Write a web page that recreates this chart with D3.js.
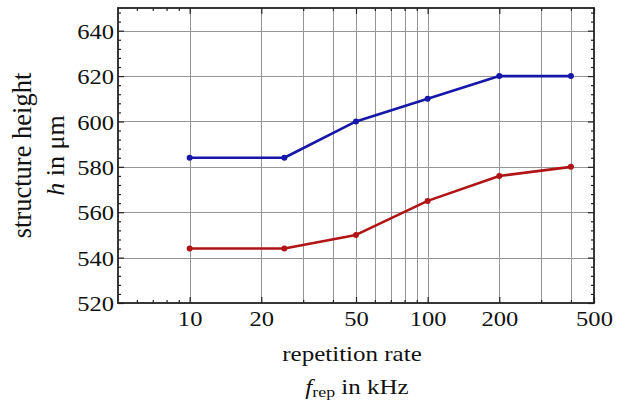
<!DOCTYPE html>
<html>
<head>
<meta charset="utf-8">
<script src="https://cdn.jsdelivr.net/npm/d3@7"></script>
<style>
  body { margin: 0; background: #fff; }
  text { font-family: "Liberation Serif", "Times New Roman", serif; fill: #111; }
</style>
</head>
<body>
<svg id="chart"></svg>
<script>
// repetition rate (kHz) and structure heights (µm)
const rate = [10, 25, 50, 100, 200, 400];
const heightBlue = [584, 584, 600, 610, 620, 620];
const heightRed = [544, 544, 550, 565, 576, 580];

const xTicks = [10, 20, 50, 100, 200, 500];
const xMinor = [6, 7, 8, 9, 30, 40, 60, 70, 80, 90, 300, 400];
const xGrid = [10, 20, 30, 40, 50, 60, 70, 80, 90, 100, 200, 300, 400];
const yTicks = [520, 540, 560, 580, 600, 620, 640];
const yGrid = [540, 560, 580, 600, 620, 640];

const width = 625;
const height = 403;
const margin = { top: 8, right: 31, bottom: 100, left: 118 };

const svg = d3.select("#chart").attr("width", width).attr("height", height);

const x = d3.scaleLog().domain([5, 500]).range([margin.left, width - margin.right]);
const y = d3.scaleLinear().domain([520, 650]).range([height - margin.bottom, margin.top]);

const yMinor = d3.range(524, 650, 4).filter((d) => d % 20 !== 0);

// grid
const grid = svg.append("g").attr("stroke", "#959595").attr("stroke-width", 1);
grid.selectAll(".gx")
  .data(xGrid)
  .join("line")
  .attr("x1", (d) => Math.round(x(d)) + 0.5)
  .attr("x2", (d) => Math.round(x(d)) + 0.5)
  .attr("y1", y(650))
  .attr("y2", y(520));
grid.selectAll(".gy")
  .data(yGrid)
  .join("line")
  .attr("x1", x(5))
  .attr("x2", x(500))
  .attr("y1", (d) => Math.round(y(d)) + 0.5)
  .attr("y2", (d) => Math.round(y(d)) + 0.5);

// frame ticks (all pointing inward)
const addAxis = (axis, transform) =>
  svg.append("g")
    .attr("transform", transform)
    .call(axis)
    .call((g) => g.select(".domain").remove())
    .call((g) => g.selectAll("line").attr("stroke", "#222").attr("stroke-width", 1.2));

const atBottom = `translate(0,${y(520)})`;
const atTop = `translate(0,${y(650)})`;
const atLeft = `translate(${x(5)},0)`;
const atRight = `translate(${x(500)},0)`;

const xb = addAxis(d3.axisBottom(x).tickValues(xTicks).tickSize(-6).tickFormat(d3.format("d")), atBottom);
xb.selectAll("text")
  .attr("y", 23)
  .attr("dy", null)
  .attr("font-size", 21)
  .attr("transform", "scale(1.17,1)");
addAxis(d3.axisBottom(x).tickValues(xMinor).tickSize(-3).tickFormat(""), atBottom);
addAxis(d3.axisTop(x).tickValues(xTicks).tickSize(-6).tickFormat(""), atTop);
addAxis(d3.axisTop(x).tickValues(xMinor).tickSize(-3).tickFormat(""), atTop);

const yl = addAxis(d3.axisLeft(y).tickValues(yTicks).tickSize(-6).tickFormat(d3.format("d")), atLeft);
yl.selectAll("text")
  .attr("x", -4 / 1.17)
  .attr("dy", "0.36em")
  .attr("font-size", 21)
  .attr("transform", "scale(1.17,1)");
addAxis(d3.axisLeft(y).tickValues(yMinor).tickSize(-3).tickFormat(""), atLeft);
addAxis(d3.axisRight(y).tickValues(yTicks).tickSize(-6).tickFormat(""), atRight);
addAxis(d3.axisRight(y).tickValues(yMinor).tickSize(-3).tickFormat(""), atRight);

svg.selectAll(".tick text").attr("fill", "#111");

// frame
svg.append("rect")
  .attr("x", x(5))
  .attr("y", y(650))
  .attr("width", x(500) - x(5))
  .attr("height", y(520) - y(650))
  .attr("fill", "none")
  .attr("stroke", "#222")
  .attr("stroke-width", 1.8);

// series
const line = d3.line()
  .x((d, i) => x(rate[i]))
  .y((d) => y(d));

const series = [
  { values: heightBlue, color: "#1616a8" },
  { values: heightRed, color: "#b01414" },
];

series.forEach((s) => {
  svg.append("path")
    .datum(s.values)
    .attr("fill", "none")
    .attr("stroke", s.color)
    .attr("stroke-width", 2.6)
    .attr("stroke-linejoin", "round")
    .attr("d", line);
  svg.append("g")
    .selectAll("circle")
    .data(s.values)
    .join("circle")
    .attr("cx", (d, i) => x(rate[i]))
    .attr("cy", (d) => y(d))
    .attr("r", 3)
    .attr("fill", s.color);
});

// axis labels
svg.append("text")
  .attr("transform", "translate(352,361) scale(1.19,1)")
  .attr("text-anchor", "middle")
  .attr("font-size", 21)
  .text("repetition rate");

const fl = svg.append("text")
  .attr("transform", "translate(357,394) scale(1.19,1)")
  .attr("text-anchor", "middle")
  .attr("font-size", 21);
fl.append("tspan").attr("font-style", "italic").text("f");
fl.append("tspan").attr("font-size", 15).attr("dy", 3).text("rep");
fl.append("tspan").attr("dy", -3).text(" in kHz");

svg.append("text")
  .attr("transform", `translate(31,${(y(520) + y(650)) / 2}) rotate(-90)`)
  .attr("text-anchor", "middle")
  .attr("font-size", 26.5)
  .text("structure height");

const hl = svg.append("text")
  .attr("transform", `translate(64,${(y(520) + y(650)) / 2}) rotate(-90)`)
  .attr("text-anchor", "middle")
  .attr("font-size", 26);
hl.append("tspan").attr("font-style", "italic").text("h");
hl.append("tspan").text(" in μm");
</script>
</body>
</html>
